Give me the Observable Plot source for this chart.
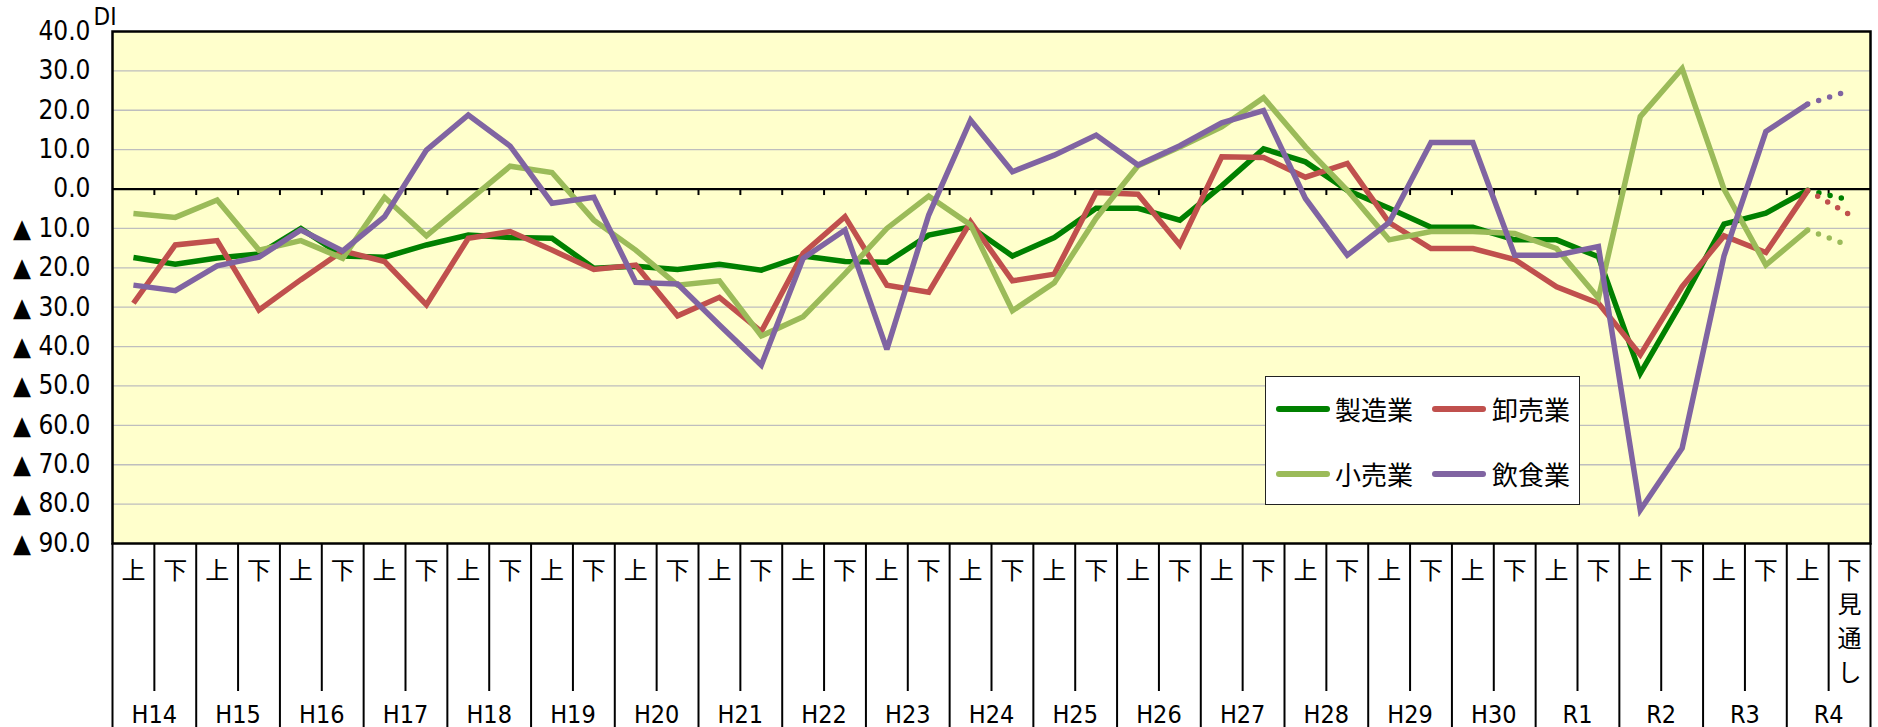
<!DOCTYPE html>
<html>
<head>
<meta charset="utf-8">
<script src="https://cdn.jsdelivr.net/npm/d3@7"></script>
<script src="https://cdn.jsdelivr.net/npm/@observablehq/plot@0.6"></script>
<style>
  body { margin: 0; background: #fff; }
  #wrap { position: relative; width: 1878px; height: 727px; }
  .legend { position: absolute; left: 1265px; top: 376px; width: 313px; height: 127px;
            border: 1.3px solid #222; background: #fff; box-sizing: content-box; }
  .legend .sw { position: absolute; height: 6px; border-radius: 3px; }
  .legend .lb { position: absolute; font-family: "Noto Sans CJK JP", sans-serif; font-size: 26px;
                line-height: 30px; color: #000; white-space: nowrap; }
</style>
</head>
<body>
<div id="wrap"></div>
<script>
// ---- data ----
const years = ["H14","H15","H16","H17","H18","H19","H20","H21","H22","H23","H24","H25","H26","H27","H28","H29","H30","R1","R2","R3","R4"];
const halves = ["上","下"];
const forecastLabel = "下\n見\n通\nし";
const seriesNames = ["製造業","卸売業","小売業","飲食業"];
const seriesColors = ["#008000","#C0504D","#9BBB59","#8064A2"];
const yTicks = [40,30,20,10,0,-10,-20,-30,-40,-50,-60,-70,-80,-90];

const manufacturing = [-17.4,-19.1,-17.5,-16.5,-10.0,-17.0,-17.3,-14.2,-11.7,-12.3,-12.5,-20.1,-19.6,-20.4,-19.1,-20.6,-17.0,-18.4,-18.6,-11.7,-9.6,-17.0,-12.3,-4.9,-4.9,-7.9,0.8,10.2,6.9,-0.3,-4.9,-9.7,-9.7,-12.9,-12.9,-17.2,-46.8,-28.5,-8.9,-6.1,-0.3,-2.8];
const wholesale     = [-29.0,-14.2,-13.1,-30.7,-23.0,-15.7,-18.4,-29.4,-12.5,-10.8,-15.5,-20.4,-19.3,-32.2,-27.5,-36.2,-16.3,-7.0,-24.4,-26.2,-8.3,-23.3,-21.6,-0.9,-1.3,-14.2,8.2,8.0,3.0,6.5,-8.5,-15.1,-15.1,-17.9,-24.8,-29.0,-42.1,-24.8,-11.9,-16.1,-0.4,-6.5];
const retail        = [-6.2,-7.2,-2.8,-15.5,-13.1,-17.6,-2.1,-11.9,-3.0,5.8,4.2,-7.9,-15.5,-24.4,-23.3,-37.3,-32.4,-21.5,-10.0,-1.8,-9.1,-30.9,-23.8,-7.4,5.9,10.7,15.8,23.2,10.7,-0.3,-12.9,-10.8,-10.8,-11.3,-15.1,-27.7,18.4,30.6,0.0,-19.3,-10.4,-14.4];
const restaurant    = [-24.4,-25.8,-19.5,-17.3,-10.4,-15.7,-7.0,9.9,18.8,10.9,-3.6,-2.1,-23.7,-24.1,-34.5,-44.7,-17.6,-10.4,-40.7,-6.6,17.5,4.4,8.6,13.7,6.1,11.0,16.8,19.9,-2.4,-16.8,-8.5,11.8,11.8,-16.8,-16.8,-14.6,-81.5,-65.8,-17.0,14.6,21.6,25.0];

// ---- derived tables ----
const cats = years.flatMap(y => halves.map(h => ({year: y, half: h})));
const nCat = cats.length;
const lastIdx = nCat - 1;          // forecast point
const seriesValues = [manufacturing, wholesale, retail, restaurant];
const rows = seriesNames.flatMap((s, k) => seriesValues[k].map((v, i) => ({s, i, v})));
const solid = rows.filter(d => d.i <= lastIdx - 1);
const dotted = rows.filter(d => d.i >= lastIdx - 1);
const zeroTicks = d3.range(0, nCat - 1).map(i => i + 0.5);
const yearBounds = d3.range(0, years.length + 1).map(k => 2 * k - 0.5);
const innerBounds = d3.range(0, years.length).map(k => 2 * k + 0.5);

const W = 1878, H = 727, mL = 112, mR = 8, mT = 31, mB = 184;
const plotH = H - mT - mB;
const narrow = '"Liberation Sans Narrow", "DejaVu Sans Condensed", "Noto Sans CJK JP", sans-serif';
const cjk = '"Noto Sans CJK JP", sans-serif';
const fmt = d => d < 0 ? "▲ " + (-d).toFixed(1) : d.toFixed(1);

const chart = Plot.plot({
  width: W, height: H,
  marginLeft: mL, marginRight: mR, marginTop: mT, marginBottom: mB,
  x: {type: "linear", domain: [-0.5, nCat - 0.5], axis: null},
  y: {type: "linear", domain: [-90, 40], axis: null},
  color: {domain: seriesNames, range: seriesColors},
  style: {background: "#fff", overflow: "visible"},
  marks: [
    Plot.frame({fill: "#FFFFCC", stroke: "none"}),
    Plot.ruleY(yTicks.filter(d => d !== 0 && d !== 40 && d !== -90), {stroke: "#BEBEBE", strokeWidth: 1.3}),
    Plot.ruleY([0], {stroke: "#000", strokeWidth: 2.2}),
    Plot.ruleX(zeroTicks, {x: d => d, y1: 0, y2: 0, insetBottom: -6.5, stroke: "#000", strokeWidth: 2}),
    Plot.line(solid, {x: "i", y: "v", z: "s", stroke: "s", strokeWidth: 5.5,
      strokeLinejoin: "miter", strokeMiterlimit: 3, strokeLinecap: "butt"}),
    Plot.line(dotted, {x: "i", y: "v", z: "s", stroke: "s", strokeWidth: 5.5,
      strokeDasharray: "0 11.5", strokeLinecap: "round"}),
    Plot.frame({stroke: "#000", strokeWidth: 2.5}),
    Plot.ruleX(yearBounds, {x: d => d, insetTop: plotH, insetBottom: -mB, stroke: "#000", strokeWidth: 2}),
    Plot.ruleX(innerBounds, {x: d => d, insetTop: plotH, insetBottom: -148, stroke: "#000", strokeWidth: 2}),
    Plot.text(cats, {x: (d, i) => i, text: (d, i) => i === lastIdx ? forecastLabel : d.half,
      frameAnchor: "bottom", lineAnchor: "top", dy: 11, lineHeight: 1.42,
      fontSize: 24, fontFamily: cjk, fill: "#000"}),
    Plot.text(years, {x: (d, k) => 2 * k + 0.5, text: d => d, frameAnchor: "bottom",
      lineAnchor: "middle", dy: 171.5, fontSize: 25, fontFamily: narrow, fill: "#000"}),
    Plot.axisY({ticks: yTicks, tickSize: 0, tickPadding: 22, tickFormat: fmt, label: null,
      fontSize: 26, fontFamily: narrow, fill: "#000"}),
    Plot.text(["DI"], {frameAnchor: "top-left", textAnchor: "start", lineAnchor: "bottom",
      dx: -19, dy: -7, fontSize: 24, fontFamily: narrow, fill: "#000"})
  ]
});

const wrap = document.getElementById("wrap");
wrap.appendChild(chart);

// legend (inside plot area, as in the original)
const legend = document.createElement("div");
legend.className = "legend";
const entries = [
  {k: 0, x: 10, tx: 69, y: 32}, {k: 1, x: 166, tx: 226, y: 32},
  {k: 2, x: 10, tx: 69, y: 97}, {k: 3, x: 166, tx: 226, y: 97}
];
for (const e of entries) {
  const sw = document.createElement("div");
  sw.className = "sw";
  sw.style.left = e.x + "px"; sw.style.top = (e.y - 3) + "px";
  sw.style.width = "54px"; sw.style.background = seriesColors[e.k];
  legend.appendChild(sw);
  const lb = document.createElement("div");
  lb.className = "lb";
  lb.style.left = e.tx + "px"; lb.style.top = (e.y - 15) + "px";
  lb.textContent = seriesNames[e.k];
  legend.appendChild(lb);
}
wrap.appendChild(legend);
</script>
</body>
</html>
